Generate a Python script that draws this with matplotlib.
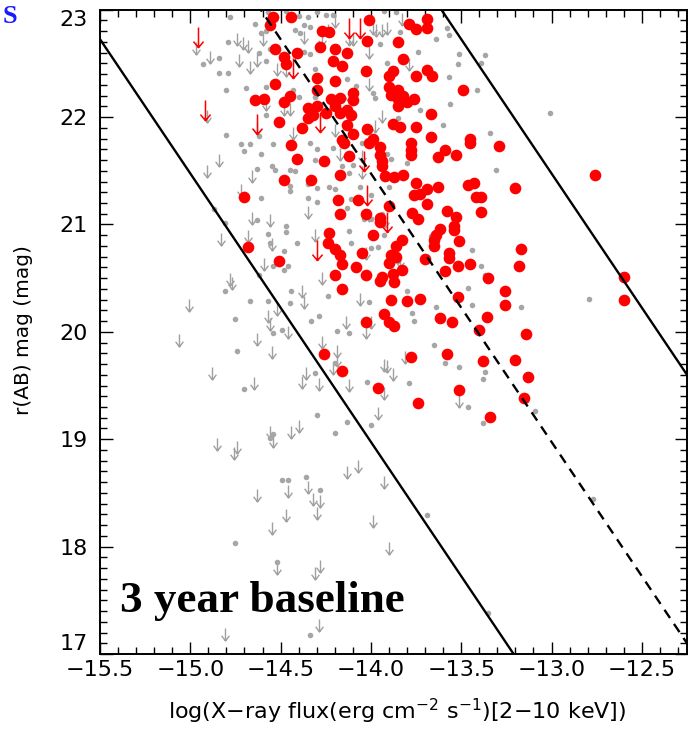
import matplotlib
matplotlib.use('Agg')
import matplotlib.pyplot as plt
from matplotlib.path import Path
from matplotlib.ticker import MultipleLocator
import numpy as np

# detected sources: log X-ray flux vs r(AB)
red_x = [
    -14.54, -14.44, -14.56, -14.53, -14.48, -14.41, -14.47, -14.53, -14.30, -14.30,
    -14.64, -14.59, -14.48, -14.45, -14.35, -14.30, -14.32, -14.35, -14.51, -14.38,
    -14.01, -13.79, -13.69, -13.75, -13.69, -14.27, -14.23, -14.02, -13.85, -14.28,
    -14.20, -14.13, -14.21, -14.16, -13.82, -14.03, -13.88, -13.90, -13.75, -13.69,
    -13.66, -14.20, -13.49, -13.90, -13.85, -13.89, -13.82, -13.76, -14.10, -14.10,
    -14.17, -13.85, -13.80, -13.85, -14.22, -14.20, -14.13, -14.11, -14.17, -14.25,
    -13.67, -13.88, -13.84, -13.75, -14.02, -14.13, -14.10, -14.16, -13.99, -13.67,
    -13.45,
    -14.44, -14.41, -14.48, -14.33, -14.70, -14.68, -14.51,
    -14.15, -14.01, -14.26, -14.12, -13.95, -13.95, -13.94, -13.94, -13.78, -13.78,
    -13.78, -13.63, -13.59, -13.53, -13.45, -14.17, -13.92, -13.87, -13.82, -13.75,
    -13.63, -13.69, -13.76, -13.73, -13.69, -13.46, -13.43, -13.42, -14.18, -14.07,
    -14.17, -14.03, -13.95, -13.95, -13.90, -13.77, -13.74, -13.58, -13.53, -13.54,
    -13.54, -13.62, -13.64, -13.65, -13.65, -13.51, -13.99, -13.83, -13.86, -13.86,
    -14.23, -14.24, -14.20, -14.17, -14.05, -13.89, -13.70, -13.57, -13.57, -13.59,
    -13.52, -13.45, -14.16, -14.20, -14.08, -14.03, -13.90, -13.83, -13.94, -13.88,
    -13.29, -12.76, -13.20, -13.39, -13.39, -13.17, -13.18, -13.35, -12.60,
    -14.16, -13.95, -13.87, -13.89, -13.80, -13.73, -13.52, -13.93, -13.90, -13.87,
    -14.03, -13.62, -13.55, -13.40, -14.26, -13.78, -13.58, -14.16, -13.96, -13.51,
    -13.74,
    -13.26, -13.26, -13.36, -13.14, -13.38, -13.20, -13.13, -13.15, -13.34, -12.60,
]
red_y = [
    22.93, 22.93, 22.86, 22.63, 22.56, 22.60, 22.49, 22.31, 22.36, 22.25,
    22.16, 22.17, 22.14, 22.20, 22.08, 22.10, 22.02, 21.99, 21.95, 21.90,
    22.90, 22.87, 22.91, 22.82, 22.83, 22.80, 22.79, 22.71, 22.70, 22.65,
    22.63, 22.60, 22.52, 22.48, 22.54, 22.43, 22.43, 22.38, 22.38, 22.44,
    22.38, 22.34, 22.25, 22.28, 22.25, 22.21, 22.20, 22.17, 22.22, 22.16,
    22.18, 22.17, 22.14, 22.10, 22.17, 22.10, 22.07, 22.02, 22.04, 22.04,
    22.03, 21.94, 21.91, 21.91, 21.89, 21.93, 21.84, 21.79, 21.80, 21.81,
    21.80,
    21.74, 21.61, 21.41, 21.41, 21.26, 20.79, 20.66,
    21.76, 21.76, 21.59, 21.64, 21.72, 21.65, 21.59, 21.54, 21.76, 21.69,
    21.65, 21.63, 21.69, 21.65, 21.76, 21.46, 21.45, 21.44, 21.46, 21.39,
    21.35, 21.33, 21.27, 21.28, 21.19, 21.37, 21.39, 21.26, 21.23, 21.23,
    21.10, 21.10, 21.06, 21.02, 21.17, 21.11, 21.05, 21.13, 21.07, 20.99,
    20.95, 20.96, 20.90, 20.86, 20.80, 20.85, 20.90, 20.86, 20.80, 20.70,
    20.92, 20.83, 20.77, 20.72, 20.73, 20.72, 20.68, 20.73, 20.69, 20.57,
    20.61, 20.63, 20.63, 20.53, 20.60, 20.53, 20.64, 20.58, 20.51, 20.54,
    21.73, 21.46, 21.34, 21.12, 21.26, 20.77, 20.61, 20.50, 20.51,
    20.40, 20.47, 20.46, 20.30, 20.29, 20.31, 20.32, 20.17, 20.09, 20.05,
    20.09, 20.13, 20.09, 20.02, 19.79, 19.77, 19.79, 19.64, 19.48, 19.46,
    19.34,
    20.38, 20.25, 20.14, 19.98, 19.73, 19.74, 19.58, 19.38, 19.21, 20.30,
]

# red upper limits
rlim_x = [-14.96, -14.92, -14.63, -14.43, -14.28, -14.12, -14.06, -14.04, -14.02, -13.91, -14.30]
rlim_y = [22.84, 22.16, 22.03, 22.55, 22.05, 22.92, 22.92, 21.68, 21.37, 21.12, 20.86]

# grey sources (other epoch)
grey_x = [
    -14.78, -14.64, -14.61, -14.58, -14.57, -14.47, -14.40, -14.35, -14.30, -14.37,
    -14.34, -14.42, -14.39, -14.79, -14.62, -14.58, -14.56, -14.84, -14.93, -14.79,
    -14.84, -14.80, -14.69, -14.58, -14.43, -14.40, -14.31, -14.37, -14.34, -14.58,
    -14.31, -14.80, -14.62,
    -14.25, -14.21, -13.93, -13.86, -13.84, -13.95, -13.74, -13.64, -13.58, -13.57,
    -13.51, -13.52, -13.41, -13.91, -14.08, -13.98, -13.99, -13.57, -13.56, -13.60,
    -13.85, -13.73, -14.13,
    -13.37, -13.39, -13.01, -13.34,
    -14.72, -14.67, -14.70, -14.61, -14.54, -14.34, -14.30, -14.63, -14.55, -14.53,
    -14.45, -14.42, -14.31, -14.45, -14.45, -14.35, -14.30, -14.61, -14.35, -14.30,
    -14.87, -14.81, -14.63, -14.47, -14.47, -14.57, -14.56, -14.41, -14.48, -14.54,
    -14.46, -14.48, -14.62,
    -14.21, -14.05, -13.91, -13.89, -13.80, -14.10, -14.16, -14.12, -14.23, -14.20,
    -14.06, -14.00, -14.11, -14.13, -13.90, -13.94, -14.00, -14.04, -13.93, -14.12,
    -14.11, -14.00, -13.96, -13.44, -13.67, -13.85,
    -13.31, -13.39, -13.37,
    -14.81, -14.67, -14.57, -14.44, -14.45, -14.75, -14.54, -14.49, -14.33, -14.29,
    -14.74, -14.31, -14.70, -14.30,
    -14.24, -14.01, -13.80, -13.77, -13.76, -13.64, -13.46, -13.44, -14.19, -14.12,
    -13.65, -13.59, -13.51, -14.20, -14.02, -13.79, -13.46,
    -13.17, -12.79, -13.37, -13.38, -13.09,
    -14.54, -14.56, -14.20, -14.13, -14.00, -14.49, -14.46, -14.36, -14.28, -14.75,
    -14.52, -14.34,
    -13.38, -13.69, -12.77, -13.35,
]
grey_y = [
    22.93, 22.87, 22.78, 22.80, 22.98, 22.99, 22.94, 22.93, 22.98, 22.86,
    22.84, 22.81, 22.78, 22.70, 22.60, 22.52, 22.63, 22.55, 22.49, 22.41,
    22.41, 22.25, 22.27, 22.28, 22.25, 22.19, 22.45, 22.61, 22.59, 22.02,
    22.19, 21.83, 21.82,
    22.95, 22.95, 22.99, 22.98, 22.79, 22.68, 22.61, 22.73, 22.83, 22.76,
    22.59, 22.49, 22.25, 22.50, 22.29, 22.18, 22.22, 22.37, 22.12, 21.93,
    21.99, 22.07, 22.35,
    22.58, 22.50, 22.04, 21.85,
    21.75, 21.75, 21.68, 21.66, 21.75, 21.76, 21.70, 21.52, 21.54, 21.51,
    21.51, 21.50, 21.60, 21.36, 21.31, 21.38, 21.34, 21.25, 21.25, 21.21,
    21.14, 21.01, 21.04, 20.99, 20.93, 20.91, 20.83, 20.83, 20.75, 20.61,
    20.61, 20.58, 20.53,
    21.71, 21.76, 21.66, 21.61, 21.57, 21.55, 21.54, 21.48, 21.35, 21.33,
    21.35, 21.27, 21.24, 21.15, 21.35, 21.10, 21.05, 21.05, 20.90, 20.94,
    20.83, 20.78, 20.79, 20.76, 20.89, 20.66,
    21.51, 20.61, 20.53,
    20.38, 20.29, 20.29, 20.38, 20.27, 20.12, 19.99, 20.02, 20.10, 20.15,
    19.82, 19.62, 19.47, 19.23,
    20.33, 20.28, 20.38, 20.18, 20.10, 20.23, 20.41, 20.25, 20.01, 19.99,
    19.88, 19.71, 19.67, 19.71, 19.53, 19.52, 19.30,
    20.23, 20.31, 19.63, 19.56, 19.26,
    19.05, 19.01, 19.06, 19.16, 19.13, 18.62, 18.62, 18.65, 18.53, 18.03,
    17.86, 17.18,
    19.15, 18.29, 18.44, 17.38,
]

# grey upper limits
glim_x = [
    -14.74, -14.71, -14.68, -14.89, -14.73, -14.63, -14.67, -14.52, -14.47, -14.60,
    -14.37, -14.97, -14.91, -14.63, -14.58, -14.48, -14.45, -14.43,
    -14.20, -14.24, -13.97, -13.94, -13.91, -13.99, -13.83, -14.12, -14.10, -14.01,
    -13.79, -14.01, -14.12, -13.94, -13.98, -14.20, -14.27,
    -14.84, -14.91, -14.66, -14.72, -14.35, -14.66, -14.56, -14.68, -14.83, -14.55,
    -14.31, -14.59, -14.78,
    -14.17, -14.05, -14.05, -14.01, -13.92, -14.03, -13.84, -14.27,
    -14.77, -14.38, -14.37, -15.01, -14.52, -14.57, -14.56, -14.46, -14.63, -15.06,
    -14.55, -14.88, -14.65, -14.36, -14.38, -14.29,
    -14.06, -14.14, -14.00, -14.03, -14.27, -14.19, -14.19, -14.21, -13.93, -13.91,
    -13.81, -13.88, -14.12, -13.93, -13.96, -13.51,
    -14.85, -14.74, -14.76, -14.56, -14.54, -14.44, -14.40, -14.63, -14.46, -14.35,
    -14.32, -14.28, -14.13, -14.07, -13.93, -14.47, -14.30, -14.55, -13.99, -13.90,
    -14.52, -14.28, -14.31, -14.81, -14.29,
]
glim_y = [
    22.78, 22.75, 22.72, 22.62, 22.59, 22.59, 22.52, 22.50, 22.49, 22.78,
    22.80, 22.70, 22.07, 21.95, 22.18, 22.13, 22.13, 21.91,
    22.95, 22.87, 22.87, 22.87, 22.89, 22.89, 22.97, 22.78, 22.78, 22.66,
    22.55, 22.36, 22.25, 22.07, 21.97, 21.94, 22.78,
    21.66, 21.55, 21.51, 21.38, 21.17, 21.12, 21.10, 20.95, 20.92, 20.87,
    20.96, 20.69, 20.55,
    21.71, 21.69, 21.54, 21.14, 21.09, 20.79, 20.72, 20.56,
    20.51, 20.44, 20.33, 20.31, 20.27, 20.20, 20.13, 20.05, 19.99, 19.98,
    19.87, 19.67, 19.58, 19.67, 19.59, 19.57,
    20.36, 20.15, 20.15, 20.05, 19.96, 19.88, 19.79, 19.72, 19.75, 19.74,
    19.82, 19.66, 19.56, 19.49, 19.30, 19.41,
    19.01, 18.98, 18.93, 19.12, 19.04, 19.12, 19.18, 18.54, 18.57, 18.61,
    18.50, 18.48, 18.75, 18.81, 18.66, 18.35, 18.37, 18.23, 18.29, 18.04,
    17.86, 17.88, 17.81, 17.24, 17.33,
]

# log(fx/fo) = log fx + r/2.5 + c
fxfo_levels = [-1, 0, 1]
fxfo_const = 5.41


def arrow(hw, hl):
    verts = [(0, 0), (0, -1), (-hw, -1 + hl), (0, -1), (hw, -1 + hl)]
    codes = [Path.MOVETO, Path.LINETO, Path.MOVETO, Path.LINETO, Path.LINETO]
    return Path(verts, codes)


fig = plt.figure(figsize=(6.88, 7.30), dpi=100)
ax = fig.add_axes([100/688, 76/730, 587/688, 644.3/730])

grey = '#a6a6a6'
ax.plot(glim_x, glim_y, ls='none', marker=arrow(0.31, 0.42), ms=18,
        mfc='none', mec='#a0a0a0', mew=1.0, zorder=2)
ax.plot(grey_x, grey_y, ls='none', marker='o', ms=4.0, mfc=grey, mec='none', zorder=2)
ax.plot(red_x, red_y, ls='none', marker='o', ms=8.4, mfc='#ff0000', mec='none', zorder=3)
ax.plot(rlim_x, rlim_y, ls='none', marker=arrow(0.25, 0.3), ms=29,
        mfc='none', mec='#ff0000', mew=1.1, zorder=4)

r = np.array([16.5, 23.5])
for lev in fxfo_levels:
    lx = lev - fxfo_const - r / 2.5
    if lev == 0:
        ax.plot(lx, r, color='black', lw=1.7, dashes=(4.2, 3.0), zorder=5)
    else:
        ax.plot(lx, r, color='black', lw=1.7, zorder=5)

ax.set_xlim(-15.5, -12.25)
ax.set_ylim(17, 23)
ax.xaxis.set_major_locator(MultipleLocator(0.5))
ax.xaxis.set_minor_locator(MultipleLocator(0.1))
ax.yaxis.set_major_locator(MultipleLocator(1))
ax.yaxis.set_minor_locator(MultipleLocator(0.1))
ax.xaxis.set_major_formatter(plt.FuncFormatter(lambda v, p: ('%.1f' % v).replace('-', '\u2212')))
ax.yaxis.set_major_formatter(plt.FuncFormatter(lambda v, p: '%d' % v))
ax.tick_params(which='both', direction='in', top=True, right=True, width=1.0)
ax.tick_params(which='major', length=9)
ax.tick_params(which='minor', length=5)
ax.tick_params(axis='x', pad=4, labelsize=16)
ax.tick_params(axis='y', pad=9, labelsize=16)
for s in ax.spines.values():
    s.set_linewidth(1.4)

ax.set_xlabel('log(X\u2212ray flux(erg cm$^{-2}$ s$^{-1}$)[2\u221210 keV])', fontsize=16)
ax.set_ylabel('r(AB) mag (mag)', fontsize=14.5)
ax.xaxis.set_label_coords(0.506, -0.066)
ax.yaxis.set_label_coords(-0.114, 0.503)

fig.text(120/688, 118/730, '3 year baseline', fontsize=32.5, fontweight='bold',
         family='Liberation Serif', va='baseline', ha='left')
fig.text(3/688, 707/730, 'S', fontsize=19, fontweight='bold', color='#1a1aff',
         family='Liberation Serif', va='baseline', ha='left')

# edge labels kept inside the frame, as in the original
fig.canvas.draw()
yt = ax.yaxis.get_major_ticks()
for t in yt:
    v = t.get_loc()
    if abs(v - 17) < 1e-6:
        t.label1.set_va('bottom')
    elif abs(v - 23) < 1e-6:
        t.label1.set_va('top')

fig.savefig('out.png', dpi=100)
